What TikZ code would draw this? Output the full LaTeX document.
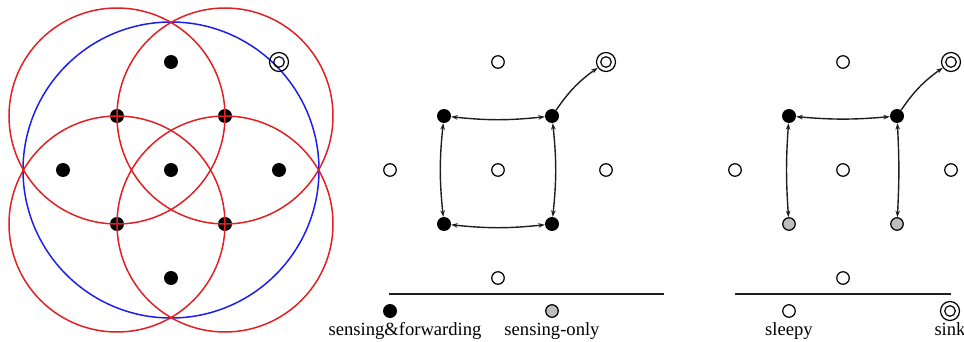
\documentclass[tikz,border=0pt]{standalone}
\usepackage{fontspec}
\setmainfont{Liberation Serif}
\usetikzlibrary{arrows.meta}
\definecolor{cred}{RGB}{226,32,36}
\definecolor{cblue}{RGB}{30,30,235}
\definecolor{cgray}{RGB}{190,190,190}
\definecolor{cline}{RGB}{30,30,30}
\tikzset{
  fwd/.style={circle,fill=black,inner sep=0pt,minimum size=14pt},
  sleepy/.style={circle,draw=black,line width=1.2pt,fill=white,inner sep=0pt,minimum size=12.5pt},
  sensonly/.style={circle,draw=black,line width=1.2pt,fill=cgray,inner sep=0pt,minimum size=12.5pt},
  sinknode/.style={circle,draw=black,line width=1.2pt,inner sep=0pt,minimum size=19pt,
     path picture={\draw[line width=1.2pt] (path picture bounding box.center) circle[radius=5.3pt];}},
  rng/.style={cred,line width=1.5pt},
  bigrng/.style={cblue,line width=1.5pt},
  link/.style={cline,line width=1.4pt,{Stealth[length=6.5pt,width=4.5pt]}-{Stealth[length=6.5pt,width=4.5pt]}},
  tosink/.style={cline,line width=1.4pt,-{Stealth[length=6.5pt,width=4.5pt]}},
  legline/.style={cline,line width=1.4pt},
  lbl/.style={font=\fontsize{18.6pt}{20pt}\selectfont,anchor=base,inner sep=0pt}
}
\begin{document}
\begin{tikzpicture}[x=1pt,y=-1pt]
\useasboundingbox (0,0) rectangle (964,342);
% ---------- left panel ----------
\node[fwd] (L1) at (171,62) {};
\node[fwd] (L2) at (117,116) {};
\node[fwd] (L3) at (225,116) {};
\node[fwd] (L4) at (63,170) {};
\node[fwd] (L5) at (171,170) {};
\node[fwd] (L6) at (279,170) {};
\node[fwd] (L7) at (117,224) {};
\node[fwd] (L8) at (225,224) {};
\node[fwd] (L9) at (171,278) {};
\draw[bigrng] (L5.center) circle[radius=148pt];
\draw[rng] (L2.center) circle[radius=108pt];
\draw[rng] (L3.center) circle[radius=108pt];
\draw[rng] (L7.center) circle[radius=108pt];
\draw[rng] (L8.center) circle[radius=108pt];
\node[sinknode] (Ls) at (279,62) {};
% ---------- middle panel ----------
\node[sleepy] (M1) at (498,62) {};
\node[sinknode] (Ms) at (606,62) {};
\node[fwd] (M2) at (444,116) {};
\node[fwd] (M3) at (552,116) {};
\node[sleepy] (M4) at (390,170) {};
\node[sleepy] (M5) at (498,170) {};
\node[sleepy] (M6) at (606,170) {};
\node[fwd] (M7) at (444,224) {};
\node[fwd] (M8) at (552,224) {};
\node[sleepy] (M9) at (498,278) {};
\draw[link] (M2) to[bend right=6] (M3);
\draw[link] (M2) to[bend right=6] (M7);
\draw[link] (M3) to[bend left=6] (M8);
\draw[link] (M7) to[bend right=6] (M8);
\draw[tosink] (M3) to[bend left=10] (Ms);
% ---------- right panel ----------
\node[sleepy] (R1) at (843,62) {};
\node[sinknode] (Rs) at (951,62) {};
\node[fwd] (R2) at (789,116) {};
\node[fwd] (R3) at (897,116) {};
\node[sleepy] (R4) at (735,170) {};
\node[sleepy] (R5) at (843,170) {};
\node[sleepy] (R6) at (951,170) {};
\node[sensonly] (R7) at (789,224) {};
\node[sensonly] (R8) at (897,224) {};
\node[sleepy] (R9) at (843,278) {};
\draw[link] (R2) to[bend right=5] (R3);
\draw[link] (R2) to[bend right=4] (R7);
\draw[link] (R3) to[bend left=3] (R8);
\draw[tosink] (R3) to[bend left=10] (Rs);
% ---------- legend ----------
\coordinate (A1) at (389,294);
\coordinate (A2) at (664,294);
\coordinate (B1) at (735,294);
\coordinate (B2) at (951,294);
\draw[legline] (A1) -- (A2);
\draw[legline] (B1) -- (B2);
\node[fwd] (G1) at (390,311) {};
\node[sensonly] (G2) at (552,311) {};
\node[sleepy] (G3) at (789,311) {};
\node[sinknode] (G4) at (950,311) {};
\node[lbl] (T1) at (405,335) {sensing\&forwarding};
\node[lbl] (T2) at (552,335) {sensing-only};
\node[lbl] (T3) at (789,335) {sleepy};
\node[lbl] (T4) at (950,335) {sink};
\end{tikzpicture}
\end{document}
